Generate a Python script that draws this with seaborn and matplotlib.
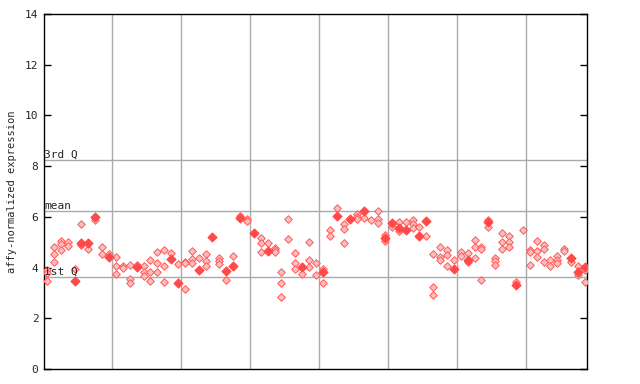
import numpy as np
import pandas as pd
import matplotlib
matplotlib.use("Agg")
import matplotlib.pyplot as plt
import seaborn as sns

# ---- data ----
col_values = [
    [3.92, 3.78, 3.47], [4.8, 4.53, 4.22], [5.05, 4.93, 4.69], [5.02, 4.85], [3.94, 3.47],
    [5.72, 4.97, 4.89], [4.97, 4.73], [5.99, 5.88], [4.81, 4.53], [4.53, 4.42],
    [4.42, 4.06, 3.75], [4.06, 3.98], [4.1, 3.55, 3.39], [4.1, 4.02], [4.06, 3.83, 3.67],
    [4.28, 3.84, 3.47], [4.6, 4.18, 3.84], [4.69, 4.06, 3.43], [4.57, 4.32], [4.14, 3.39],
    [4.22, 4.18, 3.15], [4.65, 4.32, 4.2], [4.38, 3.92], [4.53, 4.26, 4.06], [5.2],
    [4.38, 4.24, 4.14], [3.86, 3.51], [4.46, 4.06], [6.05, 5.97], [5.9, 5.82],
    [5.36], [5.16, 4.97, 4.62], [4.97, 4.67], [4.77, 4.7, 4.61], [3.82, 3.39, 2.84],
    [5.93, 5.12], [4.57, 4.18, 3.94], [4.02, 3.75], [5.0, 4.3, 4.04], [4.18, 3.71],
    [3.94, 3.82, 3.39], [5.48, 5.24], [6.35, 6.03], [5.72, 5.52, 4.97], [5.91],
    [6.11, 6.0, 5.91], [6.23, 5.95], [5.88], [6.23, 5.91, 5.76], [5.28, 5.16, 5.05],
    [5.76, 5.6], [5.8, 5.56, 5.44], [5.8, 5.48], [5.88, 5.7, 5.58], [5.6, 5.24],
    [5.84, 5.24], [4.53, 3.23, 2.92], [4.81, 4.4, 4.3], [4.69, 4.48, 4.06], [4.3, 3.94],
    [4.61, 4.44], [4.57, 4.3, 4.22], [5.08, 4.81, 4.38], [4.81, 4.73, 3.51], [5.88, 5.8, 5.6],
    [4.38, 4.24, 4.12], [5.36, 5.0, 4.73], [5.24, 5.0, 4.81], [3.43, 3.33], [5.48],
    [4.69, 4.61, 4.1], [5.05, 4.65, 4.42], [4.89, 4.73, 4.22], [4.3, 4.06], [4.46, 4.3, 4.18],
    [4.73, 4.65], [4.38, 4.22], [4.06, 3.82, 3.71], [4.02, 3.9, 3.43],
]
# (column, value) pairs drawn as solid diamonds
filled_points = [
    (4, 3.47), (5, 4.97), (6, 4.97), (7, 5.99), (9, 4.42), (13, 4.02), (18, 4.32),
    (19, 3.39), (22, 3.92), (24, 5.2), (26, 3.86), (27, 4.06), (28, 5.97), (30, 5.36),
    (32, 4.67), (37, 4.02), (40, 3.82), (42, 6.03), (44, 5.91), (46, 6.23), (49, 5.16),
    (50, 5.76), (51, 5.56), (52, 5.48), (54, 5.24), (55, 5.84), (59, 3.94), (61, 4.3),
    (64, 5.8), (68, 3.33), (76, 4.38), (77, 3.82), (78, 4.02),
]
q1_value = 3.62
mean_value = 6.22
q3_value = 8.23
y_ticks = [0, 2, 4, 6, 8, 10, 12, 14]
group_size = 10

rows = []
filled_set = set(filled_points)
for i, vals in enumerate(col_values):
    for v in vals:
        rows.append({"col": i, "val": v, "filled": (i, v) in filled_set})
df = pd.DataFrame(rows)

sns.set_theme(style="white")
mono = "DejaVu Sans Mono"

fig = plt.figure(figsize=(6.4, 3.84), dpi=100)
ax = fig.add_axes([44 / 640, 15 / 384, 543 / 640, 355 / 384])

n = len(col_values)
ax.set_xlim(-0.43, n - 1 + 0.3)
ax.set_ylim(0, 14)

grid_c = "#aaaaaa"
for b in np.arange(group_size - 0.5, n - 1, group_size):
    ax.axvline(b, color=grid_c, lw=1, zorder=1)
for q in (q1_value, mean_value, q3_value):
    ax.axhline(q, color=grid_c, lw=1, zorder=1)

hollow = df[~df["filled"]]
solid = df[df["filled"]]
sns.scatterplot(data=hollow, x="col", y="val", ax=ax, marker="D", s=15,
                facecolor="#ffbcbc", edgecolor="#ff5a5a", linewidth=0.7, zorder=3, legend=False)
sns.scatterplot(data=solid, x="col", y="val", ax=ax, marker="D", s=20,
                color="#ff4848", edgecolor="#ff4848", linewidth=0.9, zorder=4, legend=False)

ax.text(-0.4, q3_value + 0.02, "3rd Q", fontsize=8, family=mono, va="bottom", ha="left", zorder=5)
ax.text(-0.4, mean_value + 0.02, "mean", fontsize=8, family=mono, va="bottom", ha="left", zorder=5)
ax.text(-0.4, q1_value + 0.02, "1st Q", fontsize=8, family=mono, va="bottom", ha="left", zorder=5)

ax.set_xticks([])
ax.set_yticks(y_ticks)
ax.set_yticklabels([str(t) for t in y_ticks], family=mono, fontsize=8)
ax.tick_params(axis="y", direction="in", length=5, width=1, color="black",
               left=True, right=True, pad=4)
ax.set_xlabel("")
ax.set_ylabel("affy-normalized expression", family=mono, fontsize=7.5, labelpad=6)
for s in ax.spines.values():
    s.set_color("black")
    s.set_linewidth(1)

fig.savefig("out.png", dpi=100)
